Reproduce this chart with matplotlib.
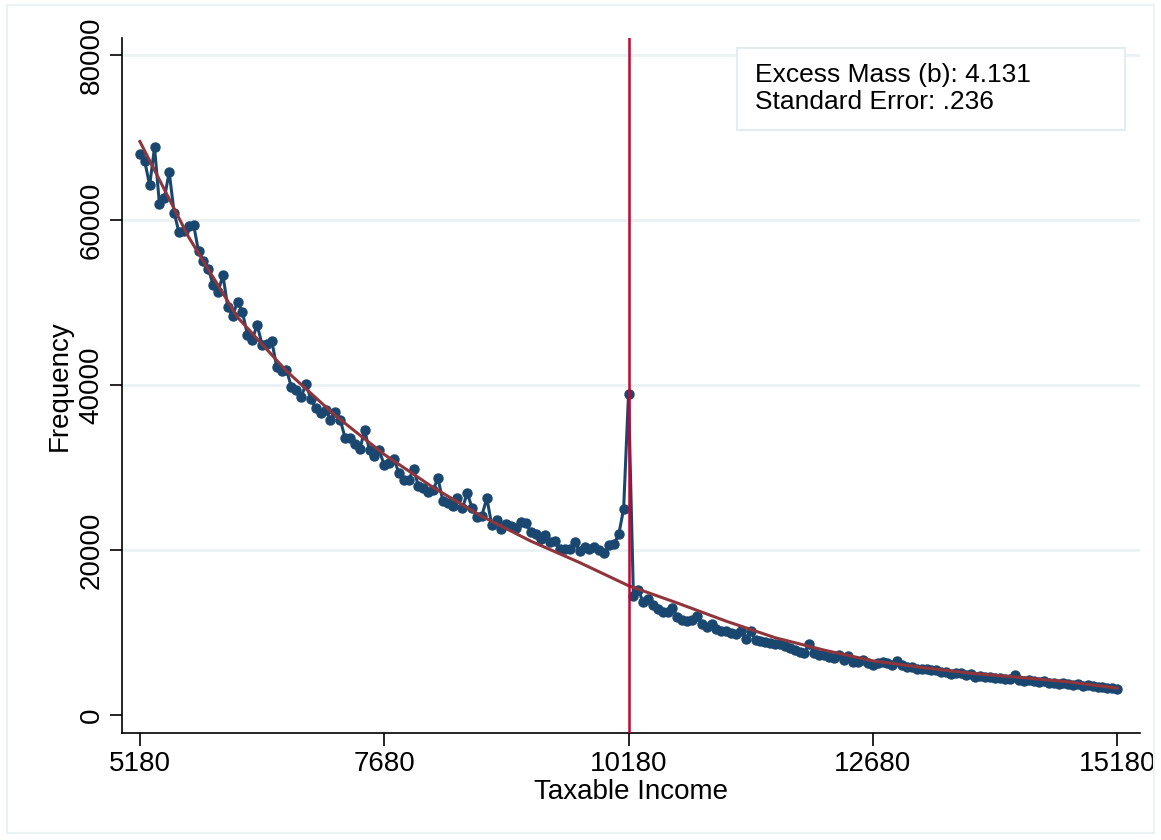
import matplotlib
matplotlib.use("Agg")
import matplotlib.pyplot as plt
import numpy as np
from matplotlib.patches import Rectangle

plt.rcParams['font.family'] = ['Liberation Sans', 'DejaVu Sans']

# bins of taxable income (width 50)
income = np.arange(5180, 15181, 50)

# observed frequency per bin, in thousands
freq_k = [
    68.0, 67.1, 64.2, 68.8, 61.9, 62.6, 65.8, 60.9, 58.5, 58.6,
    59.3, 59.4, 56.2, 55.0, 54.1, 52.1, 51.3, 53.3, 49.4, 48.4,
    50.1, 48.8, 46.1, 45.5, 47.3, 44.9, 45.0, 45.3, 42.2, 41.7,
    41.8, 39.8, 39.4, 38.6, 40.1, 38.3, 37.2, 36.6, 37.0, 35.8,
    36.7, 35.8, 33.6, 33.6, 32.9, 32.2, 34.5, 32.1, 31.4, 32.1,
    30.3, 30.5, 31.1, 29.3, 28.5, 28.5, 29.8, 27.8, 27.5, 27.1,
    27.3, 28.7, 26.0, 25.7, 25.3, 26.3, 25.1, 26.9, 25.1, 24.0,
    24.2, 26.3, 23.1, 23.6, 22.6, 23.2, 22.9, 22.7, 23.4, 23.3,
    22.2, 22.0, 21.4, 21.8, 21.0, 21.1, 20.2, 20.2, 20.2, 21.0,
    19.9, 20.4, 20.2, 20.4, 20.0, 19.6, 20.6, 20.7, 21.9, 25.0,
    38.9, 14.5, 15.2, 13.7, 14.1, 13.3, 12.9, 12.5, 12.5, 13.0,
    11.9, 11.6, 11.4, 11.6, 12.0, 11.0, 10.7, 11.0, 10.4, 10.2,
    10.2, 10.0, 9.8, 10.2, 9.2, 10.2, 9.1, 9.0, 8.9, 8.7,
    8.6, 8.6, 8.4, 8.1, 7.9, 7.7, 7.6, 8.6, 7.6, 7.3,
    7.3, 7.1, 6.9, 7.3, 6.7, 7.15, 6.5, 6.5, 6.7, 6.3,
    6.1, 6.3, 6.5, 6.3, 6.1, 6.55, 6.1, 5.85, 5.9, 5.65,
    5.6, 5.6, 5.45, 5.45, 5.25, 5.2, 5.05, 5.1, 5.1, 4.9,
    5.0, 4.7, 4.8, 4.6, 4.65, 4.5, 4.55, 4.4, 4.4, 4.85,
    4.3, 4.2, 4.3, 4.1, 4.0, 4.1, 3.95, 3.9, 3.85, 3.95,
    3.8, 3.7, 3.75, 3.6, 3.65, 3.5, 3.45, 3.4, 3.35, 3.3,
    3.15,
]
freq = np.array(freq_k) * 1000

# counterfactual fit, read at knots
fit_income = [5180, 5680, 6180, 6680, 7180, 7680, 8180, 8680, 9180, 9680,
              10180, 10680, 11180, 11680, 12180, 12680, 13180, 13680, 14180,
              14680, 15180]
fit_k = [69.5, 57.9, 48.2, 41.7, 36.3, 31.6, 27.6, 24.1, 21.1, 18.5,
         15.7, 13.6, 11.4, 9.4, 7.9, 6.6, 5.8, 5.1, 4.6, 4.05, 3.3]
fit = np.array(fit_k) * 1000

cutoff = 10180
xticks = [5180, 7680, 10180, 12680, 15180]
yticks = [0, 20000, 40000, 60000, 80000]

navy = '#1a476f'
maroon = '#90353b'
red = '#c10534'
grid_c = '#eaf2f3'

fig = plt.figure(figsize=(11.61, 8.4), dpi=100)
ax = fig.add_axes([0.105, 0.127, 0.877, 0.828])

for yv in yticks[1:]:
    ax.axhline(yv, color=grid_c, lw=2, zorder=0)

ax.plot(income, freq, color=navy, lw=2.2, marker='o', markersize=6.5, zorder=3)
ax.plot(fit_income, fit, color=maroon, lw=2.2, zorder=4)
ax.axvline(cutoff, color=red, lw=1.8, zorder=5)

ax.set_xlim(4996, 15415)
ax.set_ylim(-2182, 82061)
ax.set_xticks(xticks)
ax.set_yticks(yticks)
ax.tick_params(axis='both', labelsize=20, length=9, width=1.2, direction='out')
for lab in ax.get_yticklabels():
    lab.set_rotation(90)
    lab.set_va('center')
ax.set_xlabel('Taxable Income', fontsize=20, labelpad=2)
ax.set_ylabel('Frequency', fontsize=20, labelpad=4)

for s in ['top', 'right']:
    ax.spines[s].set_visible(False)
for s in ['left', 'bottom']:
    ax.spines[s].set_linewidth(1.2)

# text box
ax.add_patch(Rectangle((0.604, 0.868), 0.381, 0.118, transform=ax.transAxes,
                       facecolor='white', edgecolor='#e3edef', lw=1.5, zorder=6))
ax.text(0.622, 0.947, 'Excess Mass (b): 4.131', transform=ax.transAxes,
        fontsize=19, va='center', ha='left', zorder=7)
ax.text(0.622, 0.907, 'Standard Error: .236', transform=ax.transAxes,
        fontsize=19, va='center', ha='left', zorder=7)

# outer graph border
fig.patches.append(Rectangle((0.006, 0.008), 0.988, 0.986, transform=fig.transFigure,
                             fill=False, edgecolor=grid_c, lw=1.5))

fig.savefig('out.png', dpi=100)
